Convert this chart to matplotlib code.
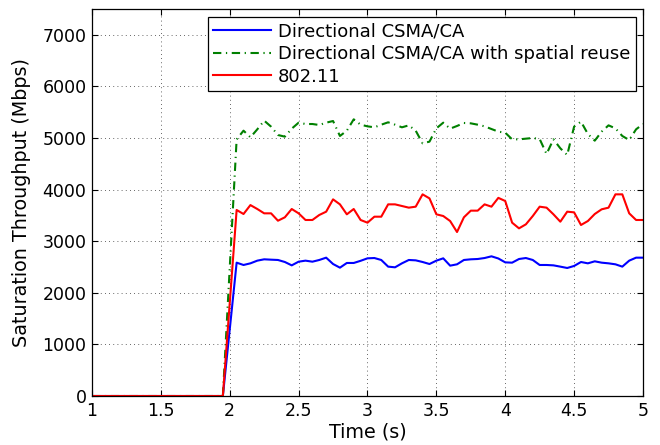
import matplotlib
matplotlib.use('Agg')
import matplotlib.pyplot as plt
import numpy as np

plt.rcParams['font.family'] = ['DejaVu Sans']

# time axis: zeros before the start, then samples every 0.05 s
t_idle = np.round(np.arange(1.0, 1.951, 0.05), 2)
t_run = np.round(np.arange(2.05, 5.001, 0.05), 2)
time = np.concatenate([t_idle, t_run])

idle = [0] * len(t_idle)

directional = [2584, 2539, 2571, 2623, 2649, 2642, 2636, 2597, 2532, 2603,
               2623, 2603, 2636, 2681, 2558, 2487, 2578, 2578, 2620, 2668,
               2674, 2636, 2507, 2494, 2571, 2636, 2629, 2597, 2558, 2623,
               2668, 2526, 2552, 2636, 2649, 2655, 2674, 2707, 2665, 2590,
               2584, 2655, 2674, 2636, 2539, 2539, 2532, 2507, 2481, 2520,
               2597, 2571, 2610, 2584, 2571, 2552, 2507, 2623, 2681, 2681]

spatial_reuse = [4974, 5142, 5013, 5168, 5336, 5220, 5058, 5026, 5181, 5297,
                 5271, 5271, 5252, 5297, 5329, 5039, 5142, 5362, 5258, 5226,
                 5207, 5258, 5304, 5258, 5207, 5245, 5142, 4897, 4929, 5187,
                 5297, 5181, 5233, 5291, 5284, 5258, 5226, 5174, 5123, 5103,
                 4974, 4974, 4987, 5000, 4980, 4690, 4974, 4800, 4671, 5220,
                 5317, 5078, 4948, 5123, 5245, 5187, 5039, 4961, 5168, 5271]

dot11 = [3605, 3527, 3700, 3624, 3540, 3540, 3397, 3463, 3624, 3540,
         3411, 3411, 3508, 3572, 3811, 3714, 3521, 3624, 3411, 3359,
         3475, 3475, 3714, 3714, 3682, 3650, 3669, 3908, 3830, 3521,
         3488, 3391, 3178, 3463, 3592, 3592, 3714, 3669, 3840, 3779,
         3359, 3249, 3327, 3488, 3669, 3650, 3521, 3378, 3572, 3559,
         3314, 3391, 3527, 3618, 3650, 3908, 3908, 3540, 3411, 3411]

labels = ['Directional CSMA/CA', 'Directional CSMA/CA with spatial reuse', '802.11']

fig = plt.figure(figsize=(6.6, 4.45), dpi=100)
ax = fig.add_axes([0.1394, 0.1101, 0.8348, 0.8697])

ax.plot(time, idle + directional, color=(0, 0, 1), lw=1.5, label=labels[0])
ax.plot(time, idle + spatial_reuse, color=(0, 0.5, 0), lw=1.5,
        linestyle=(0, (4, 2.2, 0.6, 2.2)), label=labels[1])
ax.plot(time, idle + dot11, color=(1, 0, 0), lw=1.5, label=labels[2])

ax.set_xlim(1, 5)
ax.set_ylim(0, 7500)
ax.set_xticks(np.arange(1, 5.01, 0.5))
ax.set_xticklabels(['1', '1.5', '2', '2.5', '3', '3.5', '4', '4.5', '5'])
ax.set_yticks(np.arange(0, 7001, 1000))

ax.grid(True, color='black', linestyle=(0, (1, 4)), linewidth=0.6, alpha=0.8)
ax.tick_params(direction='in', length=4, width=0.8, top=True, right=True,
               labelsize=12.5, pad=4)
for s in ax.spines.values():
    s.set_linewidth(0.9)

ax.set_xlabel('Time (s)', fontsize=13.75, labelpad=2)
ax.set_ylabel('Saturation Throughput (Mbps)', fontsize=13.75, labelpad=8)

leg = ax.legend(loc='upper right', bbox_to_anchor=(0.987, 0.979), fontsize=13,
                fancybox=False, framealpha=1, edgecolor='black',
                handlelength=3.2, handletextpad=0.4, borderpad=0.3,
                labelspacing=0.25, borderaxespad=0)
leg.get_frame().set_linewidth(0.9)

fig.savefig('out.png', dpi=100)
